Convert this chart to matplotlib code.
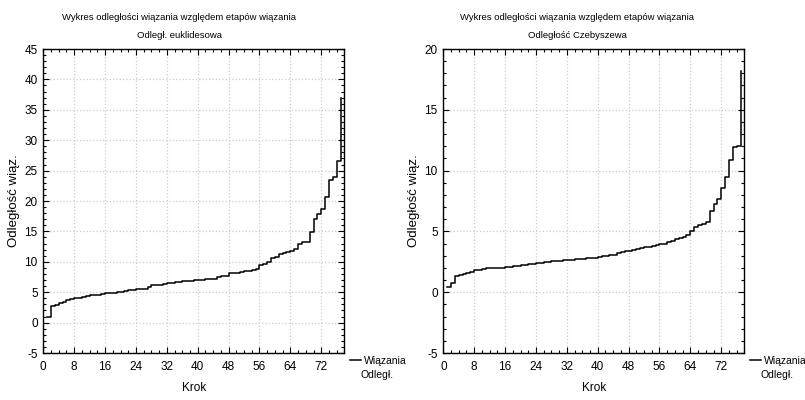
import matplotlib.pyplot as plt
from matplotlib.ticker import MultipleLocator
import numpy as np

plt.rcParams['font.family'] = ['Liberation Sans Narrow', 'Liberation Sans', 'DejaVu Sans']
plt.rcParams['axes.unicode_minus'] = False

# numer kroku wiazania
krok = np.arange(1, 78)

# odleglosc euklidesowa
odl_eukl = [0.9, 2.7, 2.95, 3.2, 3.4, 3.65, 3.9, 4.0, 4.1, 4.2,
            4.3, 4.5, 4.55, 4.6, 4.65, 4.8, 4.85, 4.9, 5.0, 5.1,
            5.2, 5.3, 5.35, 5.45, 5.5, 5.6, 5.8, 6.2, 6.2, 6.25,
            6.3, 6.45, 6.5, 6.6, 6.6, 6.8, 6.8, 6.85, 7.0, 7.0,
            7.05, 7.1, 7.2, 7.25, 7.55, 7.6, 7.7, 8.1, 8.15, 8.2,
            8.4, 8.45, 8.5, 8.7, 8.75, 9.5, 9.7, 9.9, 10.6, 10.8,
            11.3, 11.5, 11.6, 11.7, 12.1, 13.0, 13.2, 13.2, 14.9, 17.0,
            17.8, 18.7, 20.6, 23.5, 23.9, 26.6, 36.9]

# odleglosc Czebyszewa
odl_czeb = [0.45, 0.75, 1.35, 1.45, 1.5, 1.6, 1.7, 1.8, 1.85, 1.9,
            1.95, 1.97, 1.98, 2.0, 2.02, 2.05, 2.1, 2.12, 2.18, 2.22,
            2.25, 2.3, 2.33, 2.37, 2.42, 2.5, 2.52, 2.55, 2.57, 2.6,
            2.62, 2.65, 2.68, 2.7, 2.73, 2.75, 2.78, 2.8, 2.85, 2.9,
            2.95, 3.0, 3.05, 3.1, 3.2, 3.3, 3.35, 3.4, 3.45, 3.55,
            3.65, 3.7, 3.75, 3.8, 3.9, 3.95, 4.0, 4.15, 4.2, 4.4,
            4.45, 4.5, 4.7, 5.0, 5.4, 5.5, 5.6, 5.8, 6.7, 7.25,
            7.65, 8.55, 9.5, 10.9, 11.9, 12.0, 18.2]

tytul = 'Wykres odległości wiązania względem etapów wiązania'
podtytuly = ['Odległ. euklidesowa', 'Odległość Czebyszewa']

fig = plt.figure(figsize=(8.05, 4.0), dpi=100)

ustawienia = [
    (0.0538, odl_eukl, (-5, 45), 179),
    (0.5507, odl_czeb, (-5, 20), 577),
]

for i, (lewo, dane, ylim, srodek) in enumerate(ustawienia):
    ax = fig.add_axes([lewo, 0.1175, 0.374, 0.76])
    linia, = ax.step(krok, dane, where='post', color='black', lw=1.1)
    ax.set_xlim(0, 78)
    ax.set_ylim(*ylim)
    ax.xaxis.set_major_locator(MultipleLocator(8))
    ax.xaxis.set_minor_locator(MultipleLocator(2))
    ax.yaxis.set_major_locator(MultipleLocator(5))
    ax.yaxis.set_minor_locator(MultipleLocator(1))
    ax.tick_params(which='both', direction='in', top=True, right=True,
                   labelsize=8.5, width=0.8)
    ax.tick_params(which='major', length=4)
    ax.tick_params(which='minor', length=2)
    ax.tick_params(axis='x', pad=6)
    ax.tick_params(axis='y', pad=4)
    for s in ax.spines.values():
        s.set_linewidth(1.0)
    ax.grid(True, which='major', color='#cccccc', linestyle=':', linewidth=0.9)
    ax.set_xlabel('Krok', fontsize=8.5, labelpad=6)
    ax.set_ylabel('Odległość wiąz.', fontsize=9.5, labelpad=3)

    fig.text(srodek / 805, 1 - 17 / 400, tytul, ha='center', va='center', fontsize=6.8)
    fig.text(srodek / 805, 1 - 36 / 400, podtytuly[i], ha='center', va='center', fontsize=6.8)

    ax.legend([linia], ['Wiązania'], loc='center left', bbox_to_anchor=(1.02, -0.025),
              frameon=False, fontsize=7.5, handlelength=1.0, handletextpad=0.3,
              borderpad=0, borderaxespad=0)
    ax.text(1.11, -0.072, 'Odległ.', transform=ax.transAxes, ha='center', va='center',
            fontsize=7.5)

fig.savefig('out.png', dpi=100, facecolor='white')
